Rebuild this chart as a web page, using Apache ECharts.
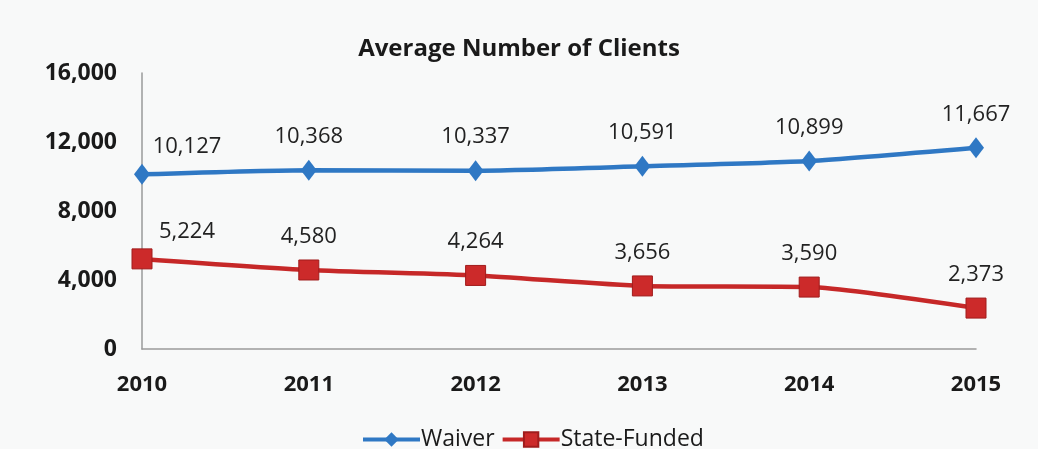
<!DOCTYPE html>
<html><head><meta charset="utf-8">
<script src="https://cdn.jsdelivr.net/npm/echarts@6/dist/echarts.min.js"></script>
<style>html,body{margin:0;padding:0;background:#f8f9f9}#c{width:1038px;height:449px}</style>
</head><body><div id="c"></div>
<script>
const years = ['2010','2011','2012','2013','2014','2015'];
const waiver = [10127, 10368, 10337, 10591, 10899, 11667];
const stateFunded = [5224, 4580, 4264, 3656, 3590, 2373];
const yTicks = [0, 4000, 8000, 12000, 16000];

const FONT = '"Open Sans", "Noto Sans", sans-serif';
const fmt = v => v.toLocaleString('en-US');
function withFirstShift(arr){
  return arr.map((v,i)=> i===0 ? {value:v, label:{offset:[45,6]}} : v);
}
const chart = echarts.init(document.getElementById('c'));
chart.setOption({
  backgroundColor:'#f8f9f9',
  animation:false,
  title:{text:'Average Number of Clients', left:'center', top:32,
    textStyle:{fontFamily:FONT, fontSize:24, fontWeight:'bold', color:'#1a1a1a'}},
  grid:{left:142, right:62, top:73, bottom:100},
  legend:{top:428, left:361, padding:0, itemWidth:57, itemHeight:18, itemGap:6,
    lineStyle:{width:4},
    textStyle:{fontFamily:FONT, fontSize:23, color:'#1a1a1a', padding:[0,0,0,-4]},
    data:['Waiver','State-Funded']},
  xAxis:{type:'category', data:years, boundaryGap:false,
    axisLine:{lineStyle:{color:'#9a9a9a', width:1.5}}, axisTick:{show:false},
    axisLabel:{fontFamily:FONT, fontSize:22, fontWeight:'bold', color:'#1a1a1a', margin:25}},
  yAxis:{type:'value', min:yTicks[0], max:yTicks[yTicks.length-1], interval:4000,
    axisLine:{show:true, lineStyle:{color:'#9a9a9a', width:1.5}}, axisTick:{show:false},
    splitLine:{show:false},
    axisLabel:{fontFamily:FONT, fontSize:23, fontWeight:'bold', color:'#1a1a1a', margin:25,
      formatter:v=>fmt(v)}},
  series:[
    {name:'Waiver', type:'line', data:withFirstShift(waiver), symbol:'diamond', symbolSize:[16,21],
      smooth:0.2,
      lineStyle:{color:'#2f78c4', width:4.5}, itemStyle:{color:'#2f78c4'},
      label:{show:true, position:'top', distance:12, fontFamily:FONT, fontSize:22, color:'#222',
        formatter:p=>fmt(p.value)}},
    {name:'State-Funded', type:'line', data:withFirstShift(stateFunded), symbol:'rect', symbolSize:20,
      smooth:0.2,
      lineStyle:{color:'#c62828', width:4.5}, itemStyle:{color:'#cc2a2a', borderColor:'#a01c1c', borderWidth:1},
      label:{show:true, position:'top', distance:12, fontFamily:FONT, fontSize:22, color:'#222',
        formatter:p=>fmt(p.value)}}
  ]
});
</script></body></html>
